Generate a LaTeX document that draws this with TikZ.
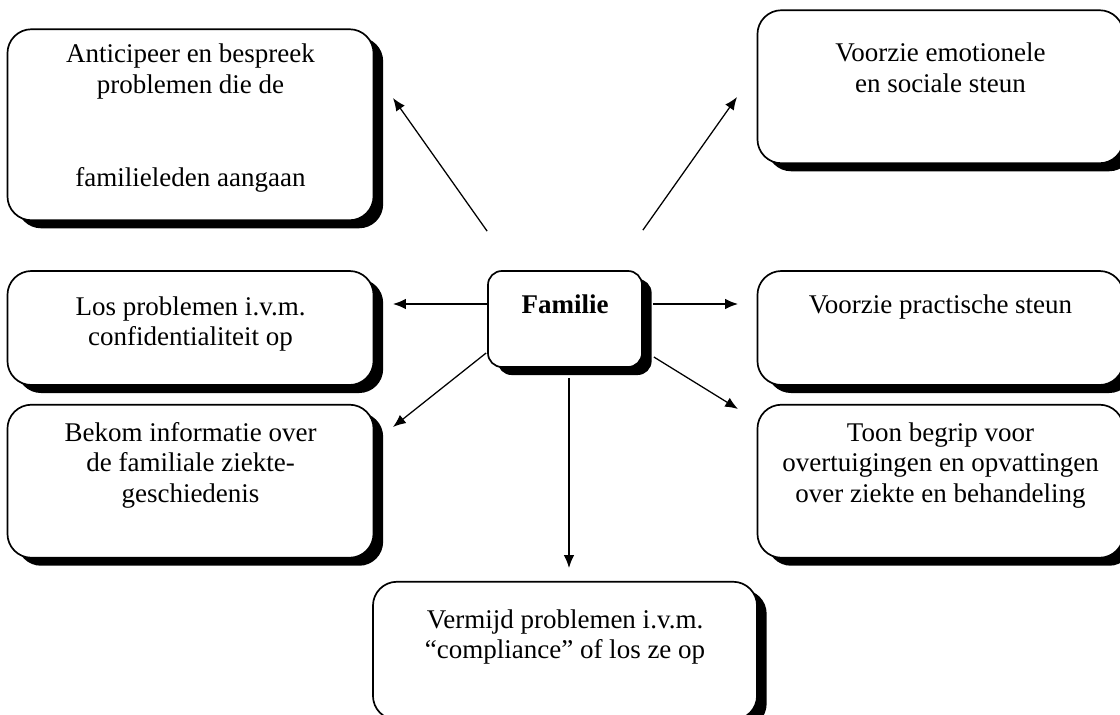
\documentclass[tikz,border=0pt]{standalone}
\usepackage{fontspec}
\setmainfont{Liberation Serif}
\usetikzlibrary{arrows.meta,positioning,shadows,calc}
\tikzset{
  card/.style ={rectangle,draw,line width=1.2pt,fill=white,rounded corners=0.6cm,
                inner sep=0pt,minimum width=9.15cm,
                drop shadow={shadow xshift=0.24cm,shadow yshift=-0.2cm,fill=black,opacity=1}},
  hub/.style  ={card,rounded corners=0.35cm,minimum width=3.85cm},
  link/.style ={->,line width=0.9pt},
  >={Latex[length=3.2mm,width=2.6mm]}
}
% height, top gap, text
\newcommand{\cardtext}[3]{\parbox[c][#1][t]{8.6cm}{\centering\fontsize{19.2}{21.6}\selectfont
  \vspace*{#2}#3\par}}

\begin{document}
\begin{tikzpicture}[x=0.025cm,y=-0.025cm]
\useasboundingbox (0,0) rectangle (1120,715);
\clip (0,0) rectangle (1120,715);

% -------- centre --------
\node[hub] (fam) at (565,319)
  {\parbox[c][2.4cm][t]{3.5cm}{\centering\fontsize{19.2}{21.6}\selectfont
   \vspace*{17pt}\textbf{Familie}\par}};

% -------- left column --------
\node[card] (conf) at (190.5,328)
  {\cardtext{2.85cm}{18.4pt}{Los problemen i.v.m.\\ confidentialiteit op}};
\node[card, above=1.225cm of conf] (antic)
  {\cardtext{4.775cm}{10.5pt}{Anticipeer en bespreek\\ problemen die de\\[44.6pt] familieleden aangaan}};
\node[card, below=0.45cm of conf] (info)
  {\cardtext{3.825cm}{12.7pt}{Bekom informatie over\\ de familiale ziekte-\\ geschiedenis}};

% -------- right column --------
\node[card] (prakt) at (940.5,328)
  {\cardtext{2.85cm}{17pt}{Voorzie practische steun}};
\node[card, above=2.65cm of prakt] (emot)
  {\cardtext{3.825cm}{23.4pt}{Voorzie emotionele\\ en sociale steun}};
\node[card, below=0.45cm of prakt] (begrip)
  {\cardtext{3.825cm}{12.7pt}{Toon begrip voor\\ overtuigingen en opvattingen\\ over ziekte en behandeling}};

% -------- bottom --------
\node[card, minimum width=9.6cm, below=5.325cm of fam] (compl)
  {\cardtext{3.45cm}{19.8pt}{Vermijd problemen i.v.m.\\ ``compliance'' of los ze op}};

% -------- arrows: start near Familie, tips free --------
\coordinate (sAntic)  at ($(fam.north west)+(0,-39)$);
\coordinate (sEmot)   at ($(fam.north east)+(0,-40)$);
\coordinate (sConf)   at ($(fam.west)+(0,-15)$);
\coordinate (sPrakt)  at ($(fam.east)+(10,-15)$);
\coordinate (sInfo)   at ($(fam.west)+(-1,34)$);
\coordinate (sBegrip) at ($(fam.east)+(11,38)$);
\coordinate (sCompl)  at ($(fam.south)+(4,10)$);

\coordinate (tAntic)  at (393,98);
\coordinate (tEmot)   at (737,97);
\coordinate (tConf)   at (393,304);
\coordinate (tPrakt)  at (738,304);
\coordinate (tInfo)   at (393,427);
\coordinate (tBegrip) at (738,409);
\coordinate (tCompl)  at (569,568);

\foreach \n in {Antic,Emot,Conf,Prakt,Info,Begrip,Compl} \draw[link] (s\n) -- (t\n);

\end{tikzpicture}
\end{document}
